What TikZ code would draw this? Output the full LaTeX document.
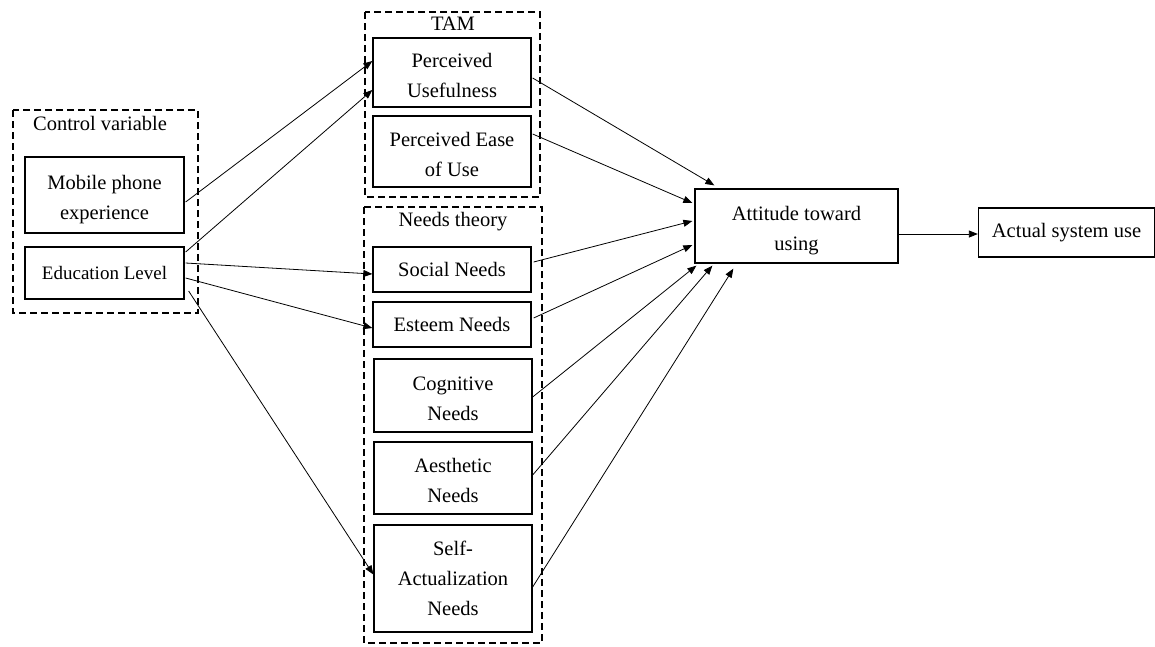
\documentclass[tikz,border=0pt]{standalone}
\usepackage{fontspec}
\setmainfont{Liberation Serif}
\usetikzlibrary{arrows.meta,calc}
\newcommand{\boxtxt}[1]{\raisebox{-3.5pt}[\height][\depth]{\begin{tabular}{@{}c@{}}#1\end{tabular}}}
\tikzset{
  box/.style={draw=black, line width=1.3pt, fill=white, align=center, inner sep=0pt,
    font=\fontsize{20.5}{30}\selectfont},
  grp/.style={draw=black, line width=1.5pt, dash pattern=on 7pt off 4pt},
  lbl/.style={font=\fontsize{20.5}{30}\selectfont, inner sep=0pt},
  arr/.style={draw=black, line width=0.8pt, -{Triangle[length=9pt,width=7pt]}},
}
\begin{document}
\begin{tikzpicture}[x=1pt,y=-1pt]
\useasboundingbox[fill=white] (0,0) rectangle (1155,646);
% groups
\draw[grp] (13,110) rectangle (198,313);
\draw[grp] (365,12) rectangle (540,197);
\draw[grp] (364,207) rectangle (542,643);
\node[lbl] (lctrl) at (100,123) {Control variable};
\node[lbl] (ltam) at (453,24) {TAM};
\node[lbl] (lneeds) at (453,222) {Needs theory};
% boxes
\node[box, minimum width=159pt, minimum height=76pt] (mob) at (104.5,195) {\boxtxt{Mobile phone\\experience}};
\node[box, minimum width=159pt, minimum height=52pt, font=\fontsize{19}{28}\selectfont] (edu) at (104.5,273) {Education Level};
\node[box, minimum width=158pt, minimum height=69pt] (pu) at (452,72.5) {\boxtxt{Perceived\\Usefulness}};
\node[box, minimum width=158pt, minimum height=71pt] (peou) at (452,151.5) {\boxtxt{Perceived Ease\\of Use}};
\node[box, minimum width=158pt, minimum height=45pt] (soc) at (452,269.5) {Social Needs};
\node[box, minimum width=158pt, minimum height=45pt] (est) at (452,324.5) {Esteem Needs};
\node[box, minimum width=158pt, minimum height=73pt] (cog) at (453,395.5) {\boxtxt{Cognitive\\Needs}};
\node[box, minimum width=158pt, minimum height=72pt] (aes) at (453,478) {\boxtxt{Aesthetic\\Needs}};
\node[box, minimum width=158pt, minimum height=107pt] (self) at (453,578.5) {Self-\\Actualization\\Needs};
\node[box, minimum width=203pt, minimum height=74pt] (att) at (796.5,226) {\boxtxt{Attitude toward\\using}};
\node[box, minimum width=176pt, minimum height=49pt] (act) at (1066.5,232.5) {Actual system use};
% arrows
\draw[arr] ($(mob.east)+(1,7)$) -- ($(pu.west)+(0,-11.5)$);
\draw[arr] ($(edu.east)+(1,-21)$) -- ($(pu.west)+(0,17.5)$);
\draw[arr] ($(edu.east)+(1,-10)$) -- ($(soc.west)+(0,4.5)$);
\draw[arr] ($(edu.east)+(1,5)$) -- ($(est.west)+(0,3.5)$);
\draw[arr] ($(edu.east)+(4,18)$) -- ($(self.west)+(0,-4)$);
\draw[arr] ($(pu.east)+(1,5.5)$) -- ($(att.north west)+(20,-3)$);
\draw[arr] ($(peou.east)+(1,-17.5)$) -- ($(att.west)+(-2,-23)$);
\draw[arr] ($(soc.east)+(2,-7.5)$) -- ($(att.west)+(-2,-5)$);
\draw[arr] ($(est.east)+(2,-6.5)$) -- ($(att.west)+(-2,19)$);
\draw[arr] ($(cog.east)+(0,1.5)$) -- ($(att.south west)+(2,2)$);
\draw[arr] ($(aes.east)+(0,-3)$) -- ($(att.south west)+(18,2)$);
\draw[arr] ($(self.east)+(0,8.5)$) -- ($(att.south west)+(39,5)$);
\draw[arr] ($(att.east)+(0,8)$) -- ($(act.west)+(0,1.5)$);
\end{tikzpicture}
\end{document}
